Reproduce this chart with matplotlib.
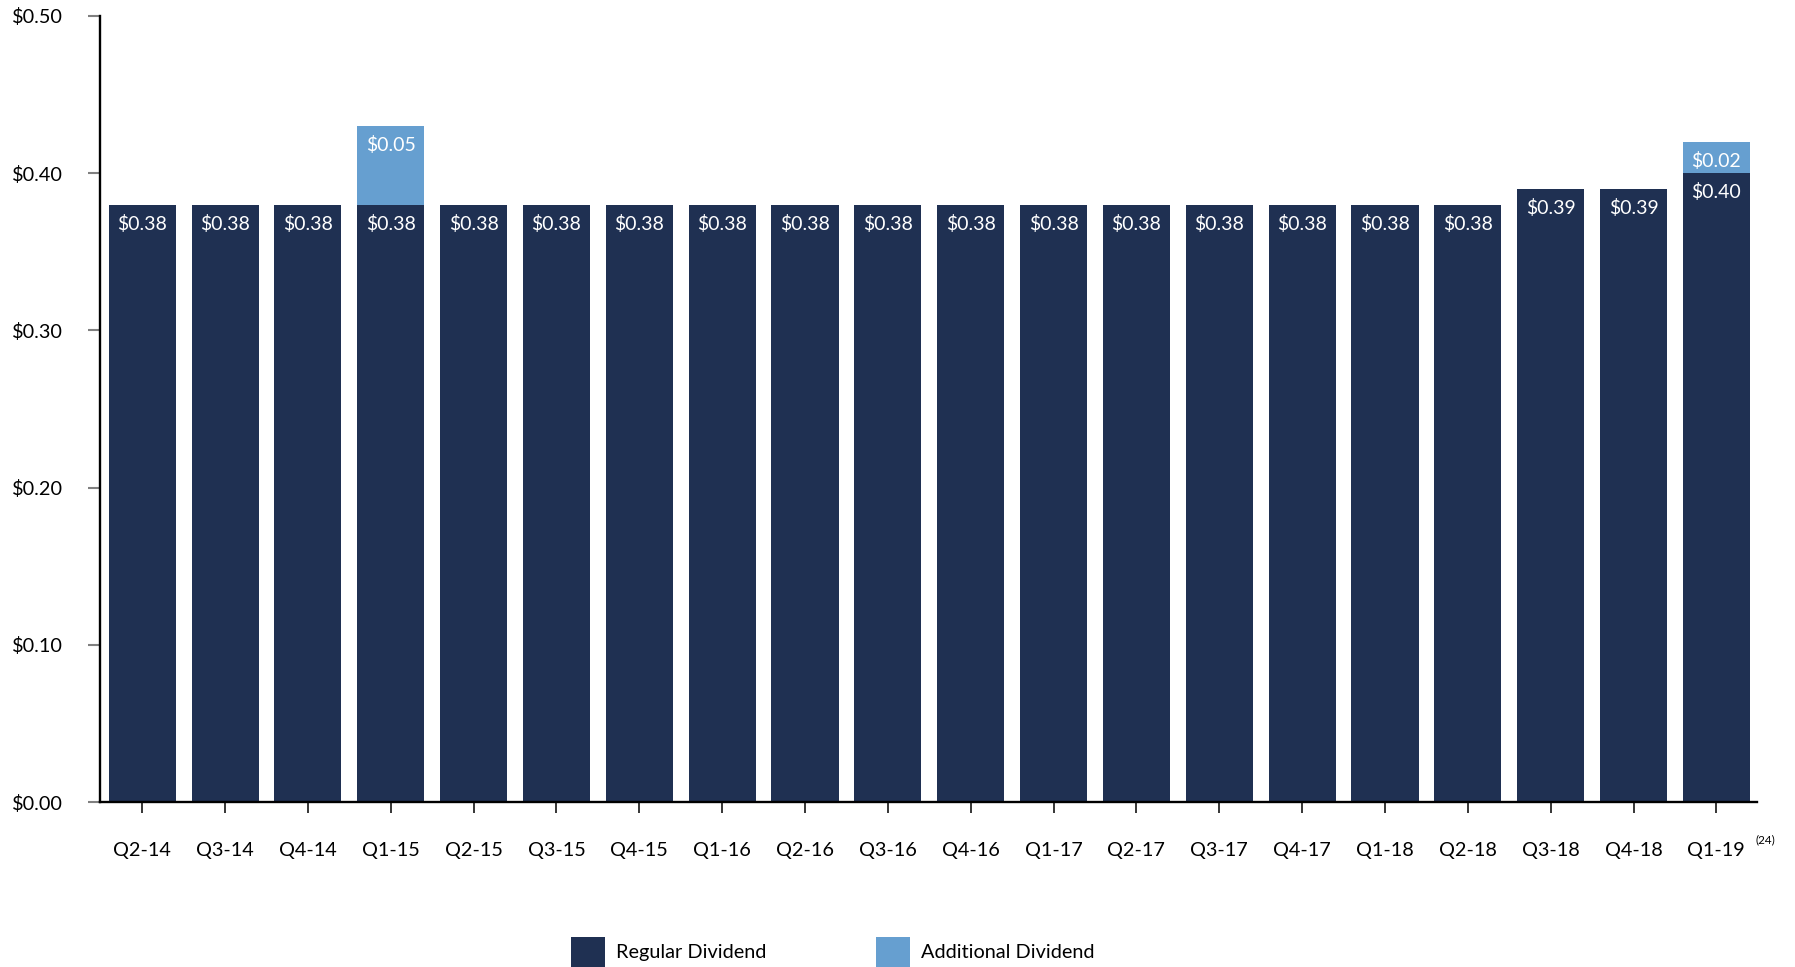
import matplotlib.pyplot as plt
from matplotlib import rcParams

rcParams['font.family'] = ['Lato', 'DejaVu Sans']

quarters = ["Q2-14", "Q3-14", "Q4-14", "Q1-15", "Q2-15", "Q3-15", "Q4-15",
            "Q1-16", "Q2-16", "Q3-16", "Q4-16", "Q1-17", "Q2-17", "Q3-17",
            "Q4-17", "Q1-18", "Q2-18", "Q3-18", "Q4-18", "Q1-19"]
regular = [0.38, 0.38, 0.38, 0.38, 0.38, 0.38, 0.38, 0.38, 0.38, 0.38,
           0.38, 0.38, 0.38, 0.38, 0.38, 0.38, 0.38, 0.39, 0.39, 0.40]
additional = [0, 0, 0, 0.05, 0, 0, 0, 0, 0, 0,
              0, 0, 0, 0, 0, 0, 0, 0, 0, 0.02]
y_ticks = [0.0, 0.1, 0.2, 0.3, 0.4, 0.5]

navy = "#1f3052"
light = "#669fd0"

fig = plt.figure(figsize=(17.95, 9.67), dpi=100)
ax = fig.add_axes([0.0557, 0.1706, 0.9231, 0.8129])

x = list(range(len(quarters)))
b1 = ax.bar(x, regular, width=0.81, color=navy, label="Regular Dividend")
b2 = ax.bar(x, additional, width=0.81, bottom=regular, color=light,
            label="Additional Dividend")

# labels inside the top of each segment
for i in x:
    ax.annotate(f"${regular[i]:.2f}", (i, regular[i]), xytext=(0, -13.7),
                textcoords="offset points", ha="center", va="center",
                color="white", fontsize=14)
    if additional[i] > 0:
        top = regular[i] + additional[i]
        ax.annotate(f"${additional[i]:.2f}", (i, top), xytext=(0, -13.7),
                    textcoords="offset points", ha="center", va="center",
                    color="white", fontsize=14)

ax.set_xlim(-0.51, 19.49)
ax.set_ylim(0, 0.5)
ax.set_xticks(x)
ax.set_xticklabels(quarters, fontsize=14.3)
ax.set_yticks(y_ticks)
ax.set_yticklabels([f"${v:.2f}" for v in y_ticks], fontsize=14.3)

ax.tick_params(axis="y", direction="out", length=8.6, width=1.5,
               color="#808080", pad=18)
ax.tick_params(axis="x", direction="out", length=8, width=1.1,
               color="black", pad=21)

for s in ["top", "right"]:
    ax.spines[s].set_visible(False)
for s in ["left", "bottom"]:
    ax.spines[s].set_linewidth(1.7)
    ax.spines[s].set_color("black")

fig.text(0.9835, 0.1315, "(24)", fontsize=8.5, ha="center", va="center")

fig.legend(handles=[b1, b2], loc="center", bbox_to_anchor=(0.464, 0.0155),
           ncol=2, frameon=False, fontsize=14.3, handlelength=1.7,
           handleheight=2.0, handletextpad=0.57, columnspacing=5.5)

plt.savefig("out.png", dpi=100)
